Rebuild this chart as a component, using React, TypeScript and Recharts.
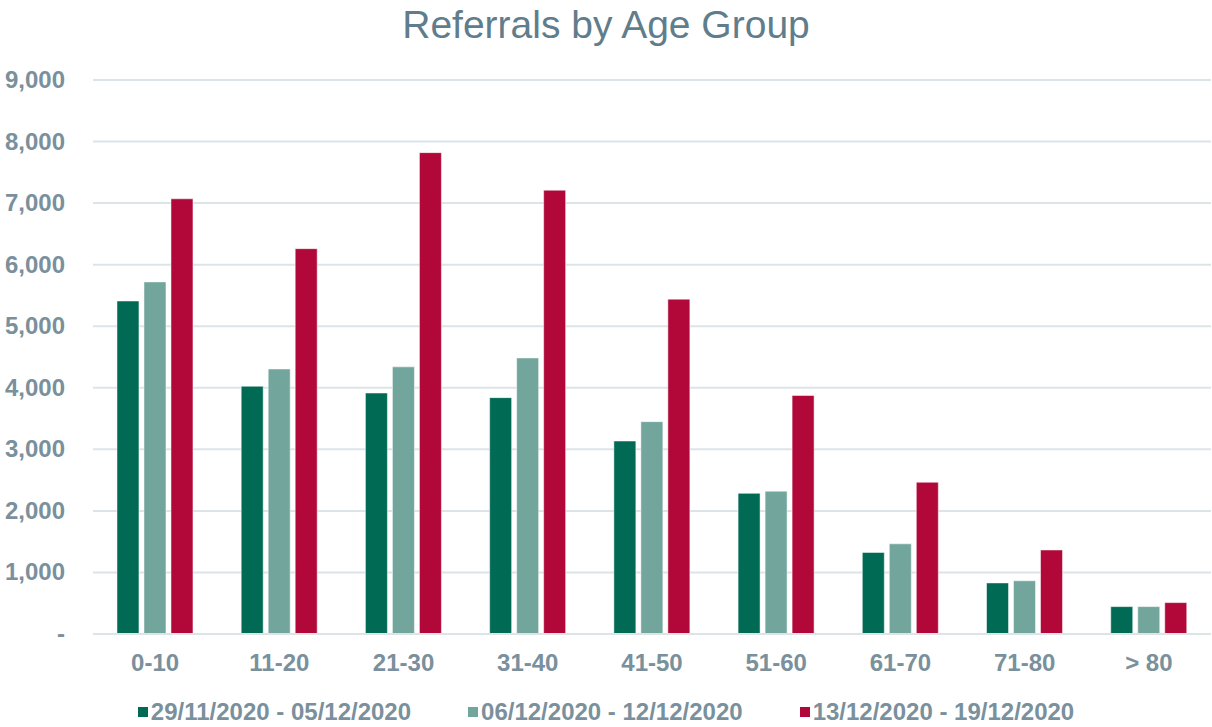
import { BarChart, Bar, XAxis, YAxis, CartesianGrid, Legend } from 'recharts';

const ageGroups = ['0-10', '11-20', '21-30', '31-40', '41-50', '51-60', '61-70', '71-80', '> 80'];
const week1 = [5410, 4025, 3915, 3840, 3135, 2285, 1325, 830, 445];
const week2 = [5720, 4305, 4340, 4485, 3450, 2320, 1465, 865, 445];
const week3 = [7070, 6260, 7820, 7210, 5440, 3875, 2465, 1365, 510];
const yTicks = [0, 1000, 2000, 3000, 4000, 5000, 6000, 7000, 8000, 9000];

const seriesNames = ['29/11/2020 - 05/12/2020', '06/12/2020 - 12/12/2020', '13/12/2020 - 19/12/2020'];
const colors = ['#006A55', '#72A59B', '#B10839'];

const data = ageGroups.map((g, i) => ({
  name: g,
  w1: week1[i],
  w2: week2[i],
  w3: week3[i],
}));

const textColor = '#7A909C';
const font = '"Liberation Sans", Arial, sans-serif';

const fmt = (v: number) => (v === 0 ? '-' : v.toLocaleString('en-US'));

const YTick = ({ y, payload }: any) => (
  <text x={65} y={y} dy={8} textAnchor="end" fill={textColor} fontSize={24} fontWeight="bold" fontFamily={font}>
    {fmt(payload.value)}
  </text>
);

const XTick = ({ x, y, payload }: any) => (
  <text x={x} y={634} dy={37} textAnchor="middle" fill={textColor} fontSize={24} fontWeight="bold" fontFamily={font}>
    {payload.value}
  </text>
);

const LegendContent = () => (
  <div style={{ display: 'flex', justifyContent: 'center', gap: 57, fontFamily: font }}>
    {seriesNames.map((n, i) => (
      <div key={n} style={{ display: 'flex', alignItems: 'center' }}>
        <span style={{ width: 10, height: 10, background: colors[i], marginRight: 3, display: 'inline-block' }} />
        <span style={{ fontSize: 24, fontWeight: 'bold', color: textColor, whiteSpace: 'nowrap' }}>{n}</span>
      </div>
    ))}
  </div>
);

export default function App() {
  return (
    <div style={{ position: 'relative', width: 1212, height: 727, background: '#fff' }}>
      <style>{'body{margin:0}'}</style>
      <div
        style={{
          position: 'absolute',
          top: 3,
          left: 0,
          width: 1212,
          textAlign: 'center',
          fontFamily: font,
          fontSize: 39,
          color: '#5F7D8C',
          lineHeight: '44px',
        }}
      >
        Referrals by Age Group
      </div>
      <BarChart
        width={1212}
        height={727}
        data={data}
        margin={{ top: 80, right: 1, bottom: 53, left: 0 }}
        barCategoryGap="19.3%"
        barGap={5}
      >
        <CartesianGrid vertical={false} stroke="#DCE4E8" strokeWidth={2} />
        <XAxis
          dataKey="name"
          axisLine={{ stroke: '#DCE4E8', strokeWidth: 2 }}
          tickLine={false}
          tick={<XTick />}
          height={40}
          interval={0}
        />
        <YAxis
          width={93}
          domain={[0, 9000]}
          ticks={yTicks}
          axisLine={false}
          tickLine={false}
          tick={<YTick />}
          interval={0}
        />
        <Legend
          verticalAlign="middle"
          content={<LegendContent />}
          wrapperStyle={{ top: 698, left: 0, width: 1212 }}
        />
        <Bar dataKey="w1" name={seriesNames[0]} fill={colors[0]} stroke="#ffffff" strokeOpacity={0.5} isAnimationActive={false} />
        <Bar dataKey="w2" name={seriesNames[1]} fill={colors[1]} stroke="#ffffff" strokeOpacity={0.5} isAnimationActive={false} />
        <Bar dataKey="w3" name={seriesNames[2]} fill={colors[2]} stroke="#ffffff" strokeOpacity={0.5} isAnimationActive={false} />
      </BarChart>
    </div>
  );
}
